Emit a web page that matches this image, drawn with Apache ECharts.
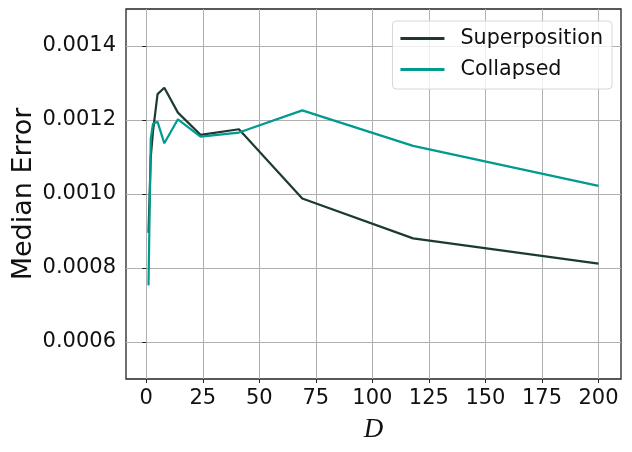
<!DOCTYPE html>
<html>
<head>
<meta charset="utf-8">
<script src="https://cdn.jsdelivr.net/npm/echarts@6/dist/echarts.min.js"></script>
<style>
  html, body { margin: 0; padding: 0; background: #fff; }
  #echart { width: 632px; height: 452px; }
</style>
</head>
<body>
<div id="echart"></div>
<script>
    // values
    var dValues = [1, 2, 3, 5, 8, 14, 24, 41, 69, 118, 200];
    var superposition = [0.000895, 0.00110, 0.00117, 0.00127, 0.001287, 0.00122, 0.00116, 0.001175, 0.000988, 0.00088, 0.000812];
    var collapsed = [0.000753, 0.00115, 0.00119, 0.001195, 0.001137, 0.001202, 0.001155, 0.001166, 0.001226, 0.00113, 0.001022];
    var xTicks = [0, 25, 50, 75, 100, 125, 150, 175, 200];
    var yTicks = [0.0006, 0.0008, 0.0010, 0.0012, 0.0014];

    function pairs(xs, ys) {
        var out = [];
        for (var i = 0; i < xs.length; i++) {
            out.push([xs[i], ys[i]]);
        }
        return out;
    }

    var myChart = echarts.init(document.getElementById('echart'));
    var font = 'DejaVu Sans';

    var option = {
        animation: false,
        backgroundColor: '#fff',
        grid: {
            left: 126,
            right: 11,
            top: 9,
            bottom: 73,
            outerBoundsMode: 'none',
            containLabel: false,
            show: true,
            borderColor: '#222',
            borderWidth: 1.3
        },
        legend: {
            orient: 'vertical',
            right: 20,
            top: 21,
            padding: [7, 9, 9, 8],
            itemWidth: 44,
            itemHeight: 3,
            itemGap: 10,
            icon: 'rect',
            backgroundColor: 'rgba(255,255,255,0.8)',
            borderColor: '#d6d6d6',
            borderWidth: 1,
            borderRadius: 4,
            textStyle: {
                fontFamily: font,
                fontSize: 20.7,
                lineHeight: 20,
                color: '#111',
                padding: [0, 0, 0, 11]
            },
            data: ['Superposition', 'Collapsed']
        },
        xAxis: {
            type: 'value',
            min: -8.95,
            max: 209.95,
            name: 'D',
            nameLocation: 'middle',
            nameGap: 37,
            nameMoveOverlap: false,
            nameTextStyle: {
                fontFamily: 'Liberation Serif',
                fontStyle: 'italic',
                fontSize: 27,
                color: '#111'
            },
            axisLine: { show: false },
            axisTick: {
                show: true,
                customValues: xTicks,
                length: 4,
                lineStyle: { color: '#222', width: 1 }
            },
            axisLabel: {
                customValues: xTicks,
                fontFamily: font,
                fontSize: 21,
                color: '#111',
                margin: 9
            },
            splitLine: {
                show: true,
                lineStyle: { color: '#b0b0b0', width: 1 }
            }
        },
        yAxis: {
            type: 'value',
            min: 0.0005,
            max: 0.0015,
            name: 'Median Error',
            nameLocation: 'middle',
            nameGap: 89,
            nameMoveOverlap: false,
            nameTextStyle: {
                fontFamily: font,
                fontSize: 27,
                color: '#111'
            },
            axisLine: { show: false },
            axisTick: {
                show: true,
                customValues: yTicks,
                length: 4,
                lineStyle: { color: '#222', width: 1 }
            },
            axisLabel: {
                customValues: yTicks,
                fontFamily: font,
                fontSize: 21,
                color: '#111',
                margin: 10,
                formatter: function (v) { return v.toFixed(4); }
            },
            splitLine: {
                show: true,
                lineStyle: { color: '#b0b0b0', width: 1 }
            }
        },
        series: [
            {
                name: 'Superposition',
                type: 'line',
                data: pairs(dValues, superposition),
                showSymbol: false,
                color: '#1d3a31',
                lineStyle: { width: 2.2, color: '#1d3a31' },
                z: 2
            },
            {
                name: 'Collapsed',
                type: 'line',
                data: pairs(dValues, collapsed),
                showSymbol: false,
                color: '#009a8e',
                lineStyle: { width: 2.2, color: '#009a8e' },
                z: 3
            }
        ]
    };
    myChart.setOption(option);
</script>
</body>
</html>
